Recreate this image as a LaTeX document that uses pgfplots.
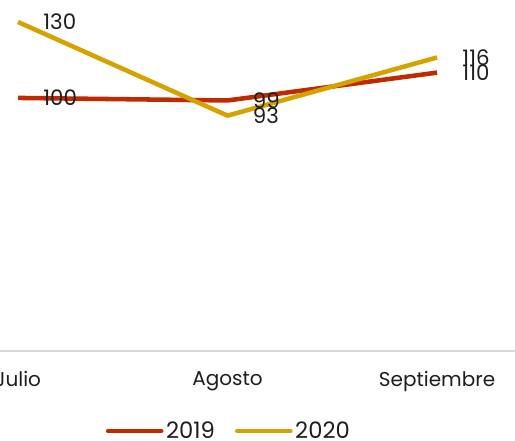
\documentclass[border=0pt]{standalone}
\usepackage{fontspec}
\setmainfont{Poppins}
\usepackage{pgfplots}
\pgfplotsset{compat=1.18}
\definecolor{c2019}{RGB}{192,42,0}
\definecolor{c2020}{RGB}{214,162,0}
\definecolor{axgray}{RGB}{217,217,217}
\definecolor{txt}{RGB}{30,30,30}
\begin{document}
\begin{tikzpicture}
\useasboundingbox (0,0) rectangle (386.25pt,330.75pt);
\begin{axis}[
  at={(0pt,67.5pt)}, anchor=south west,
  width=386.25pt, height=263.25pt, scale only axis,
  xmin=-0.086, xmax=2.372, ymin=0, ymax=138.7,
  axis x line=bottom, axis y line=none,
  x axis line style={draw=axgray, line width=1.1pt, -},
  xtick={0,1,2}, xticklabels={Julio,Agosto,Septiembre},
  major tick length=0pt,
  xticklabel style={font=\fontsize{15}{17}\selectfont, text=txt, yshift=-12pt},
  ytick=\empty,
  /pgf/number format/assume math mode=true,
  nodes near coords,
  every node near coord/.append style={anchor=west, xshift=14pt, font=\fontsize{16}{18}\selectfont, text=txt},
  legend style={at={(0.445,-0.228)}, anchor=center, draw=none, legend columns=2,
    font=\fontsize{17}{19}\selectfont, text=txt, inner sep=0pt,
    nodes={inner sep=2pt},
    /tikz/every even column/.append style={column sep=13pt}},
  legend image code/.code={\draw[#1, line width=3.2pt, line cap=round] (0pt,0pt) -- (40pt,0pt);},
  clip=false,
]
\addplot[c2019, line width=3.4pt, line join=round] coordinates {(0,100) (1,99) (2,110)};
\addlegendentry{2019}
\addplot[c2020, line width=3.4pt, line join=round] coordinates {(0,130) (1,93) (2,116)};
\addlegendentry{2020}
\end{axis}
\end{tikzpicture}
\end{document}
